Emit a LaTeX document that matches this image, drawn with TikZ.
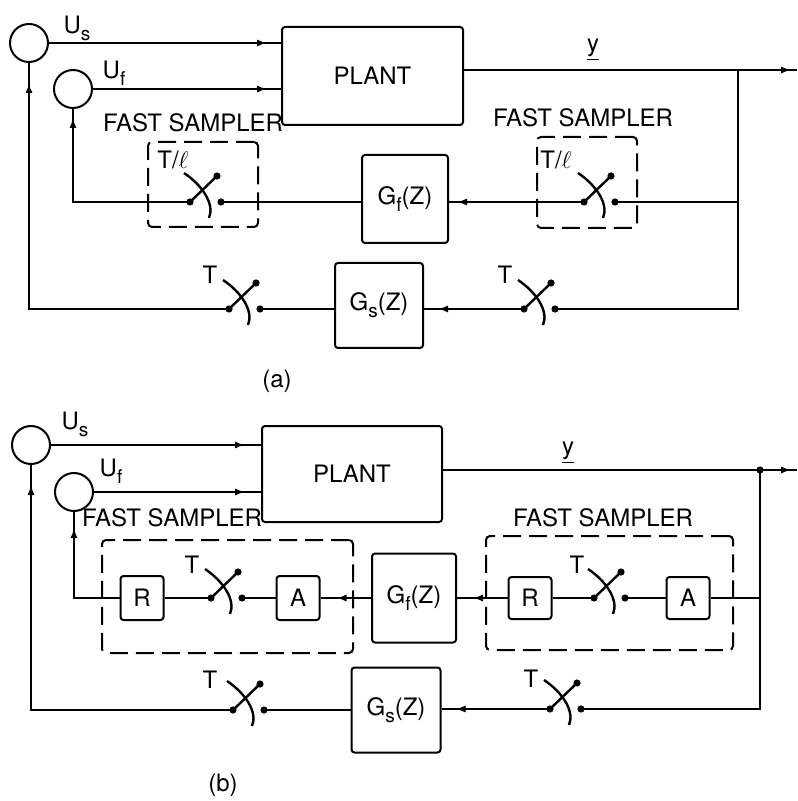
\documentclass[tikz,border=0pt]{standalone}
\usepackage{fontspec}
\setmainfont{TeX Gyre Heros}
\usepackage{tikz}
\usetikzlibrary{arrows.meta,calc,decorations.markings}

% 下标
\newcommand{\lowsub}[1]{\raisebox{-0.55ex}{\fontsize{9.5}{11}\selectfont #1}}
% 采样开关
\newcommand{\sampsw}[2]{%
  \begin{scope}[shift={(#2)}]
    \coordinate (#1-l) at (0,0);
    \coordinate (#1-r) at (31,0);
    \coordinate (#1-u) at (27,-26);
    \fill (#1-l) circle (1.8pt) (#1-r) circle (1.8pt) (#1-u) circle (1.8pt);
    \draw[line width=1.2pt] (#1-l) -- (#1-u);
    \draw[line width=1.2pt] (-6,-29) .. controls (12,-17) and (25,2) .. (19,16);
  \end{scope}}

\begin{document}
\begin{tikzpicture}[x=0.5pt,y=-0.5pt,line width=1pt,
    font=\fontsize{12}{14}\selectfont,
    blk/.style={draw,rounded corners=1.5pt,inner sep=0pt},
    sum/.style={draw,circle,minimum size=19pt,inner sep=0pt},
    fastbox/.style={draw,dash pattern=on 9pt off 4pt,rounded corners=2pt,inner sep=0pt},
    lbl/.style={inner sep=1pt},
    arrnear/.style={postaction={decorate},decoration={markings,
        mark=at position -#1 with {\arrow{Latex[length=5pt,width=3.6pt]}}}},
    arrnear/.default=8pt]
    \useasboundingbox (0,0) rectangle (797,801);

    % 图 (a)
    \node[sum] (usA) at (29,43) {};
    \node[sum] (ufA) at (73,89) {};
    \node[lbl] (usAl) at (77,28) {U\lowsub{s}};
    \node[lbl] (ufAl) at (114,73) {U\lowsub{f}};
    \node[blk,minimum width=90.5pt,minimum height=49pt] (plantA) at (372.5,76) {PLANT};
    \node[blk,minimum width=43pt,minimum height=44pt] (gfA) at (405,199) {G\lowsub{f}(Z)};
    \node[blk,minimum width=44pt,minimum height=42.5pt] (gsA) at (379,305.5) {G\lowsub{s}(Z)};
    \node[fastbox,minimum width=55pt,minimum height=42.5pt] (fsA1) at (203,184.5) {};
    \node[fastbox,minimum width=50pt,minimum height=45.5pt] (fsA2) at (587,182.5) {};
    \node[lbl] (fsA1l) at (193,123) {FAST SAMPLER};
    \node[lbl] (fsA2l) at (583,118) {FAST SAMPLER};
    \node[lbl] (tlA1) at (173,160) {T/$\ell$};
    \node[lbl] (tlA2) at (556,160) {T/$\ell$};
    \node[lbl] (yA) at (593,50) {\underline{y}};
    \coordinate (outA) at (797,70);
    \coordinate (brA) at (738,70);
    \coordinate (cA) at (738,309);

    \sampsw{swA1}{190,202}
    \sampsw{swA2}{584,202}
    \sampsw{swA3}{229,309}
    \sampsw{swA4}{524,309}
    \node[lbl] (tA3) at ([shift={(-19,-34)}]swA3-l) {T};
    \node[lbl] (tA4) at ([shift={(-19,-34)}]swA4-l) {T};

    \draw[arrnear=7pt] (usA) -- (usA -| plantA.west);
    \draw[arrnear=7pt] (ufA) -- (ufA -| plantA.west);
    \draw[arrnear=3pt] (plantA.east |- outA) -- (outA);
    \draw (brA) -- (cA) -- (swA4-r);
    \draw (swA2-r) -- (swA2-r -| brA);
    \draw[arrnear=4pt] (swA2-l) -- (swA2-l -| gfA.east);
    \draw (gfA.west |- swA1-r) -- (swA1-r);
    \draw[arrnear=4.5pt] (swA1-l) -| (ufA.south);
    \draw[arrnear=7pt] (swA4-l) -- (swA4-l -| gsA.east);
    \draw (gsA.west |- swA3-r) -- (swA3-r);
    \draw[arrnear=10pt] (swA3-l) -| (usA.south);
    \node[lbl] (capA) at (277,381) {(a)};

    % 图 (b)
    \node[sum] (usB) at (31,445) {};
    \node[sum] (ufB) at (74,492) {};
    \node[lbl] (usBl) at (75,424) {U\lowsub{s}};
    \node[lbl] (ufBl) at (111,471) {U\lowsub{f}};
    \node[blk,minimum width=90pt,minimum height=48pt] (plantB) at (352,474) {PLANT};
    \node[blk,minimum width=42pt,minimum height=44.5pt] (gfB) at (414,598) {G\lowsub{f}(Z)};
    \node[blk,minimum width=44.5pt,minimum height=42.5pt] (gsB) at (396,710) {G\lowsub{s}(Z)};
    \node[fastbox,minimum width=125.5pt,minimum height=56.5pt] (fsB1) at (227.5,596.5) {};
    \node[fastbox,minimum width=123.5pt,minimum height=57pt] (fsB2) at (609.5,593) {};
    \node[lbl] (fsB1l) at (172,518) {FAST SAMPLER};
    \node[lbl] (fsB2l) at (603,518) {FAST SAMPLER};
    \node[blk,minimum width=21.5pt,minimum height=22pt] (rB1) at (142,598) {R};
    \node[blk,minimum width=21.5pt,minimum height=22pt] (aB1) at (298,598) {A};
    \node[blk,minimum width=21.5pt,minimum height=21pt] (rB2) at (530,598) {R};
    \node[blk,minimum width=21.5pt,minimum height=21pt] (aB2) at (688,598) {A};
    \node[lbl] (yB) at (568,453) {\underline{y}};
    \coordinate (outB) at (797,470);
    \coordinate (brB) at (760,470);
    \coordinate (cB) at (760,709);

    \sampsw{swB1}{211,598}
    \sampsw{swB2}{594,598}
    \sampsw{swB3}{233,710}
    \sampsw{swB4}{550,709}
    \node[lbl] (tB1) at ([shift={(-19,-33)}]swB1-l) {T};
    \node[lbl] (tB2) at ([shift={(-17,-33)}]swB2-l) {T};
    \node[lbl] (tB3) at ([shift={(-23,-30)}]swB3-l) {T};
    \node[lbl] (tB4) at ([shift={(-19,-30)}]swB4-l) {T};

    \draw[arrnear=8pt] (usB) -- (usB -| plantB.west);
    \draw[arrnear=8pt] (ufB) -- (ufB -| plantB.west);
    \draw[arrnear=3pt] (plantB.east |- outB) -- (outB);
    \fill (brB) circle (1.8pt);
    \draw (brB) -- (cB) -- (swB4-r);
    \draw (aB2.east) -- (aB2.east -| brB);
    \draw (aB2.west) -- (swB2-r);
    \draw (swB2-l) -- (swB2-l -| rB2.east);
    \draw[arrnear=8pt] (rB2.west) -- (rB2.west -| gfB.east);
    \draw[arrnear=8pt] (gfB.west |- aB1) -- (aB1.east);
    \draw (aB1.west) -- (aB1.west -| swB1-r);
    \draw (swB1-l) -- (swB1-l -| rB1.east);
    \draw[arrnear=8pt] (rB1.west) -| (ufB.south);
    \draw[arrnear=7pt] (swB4-l) -- (swB4-l -| gsB.east);
    \draw (gsB.west |- swB3-r) -- (swB3-r);
    \draw[arrnear=10pt] (swB3-l) -| (usB.south);
    \node[lbl] (capB) at (223,785) {(b)};
\end{tikzpicture}
\end{document}
